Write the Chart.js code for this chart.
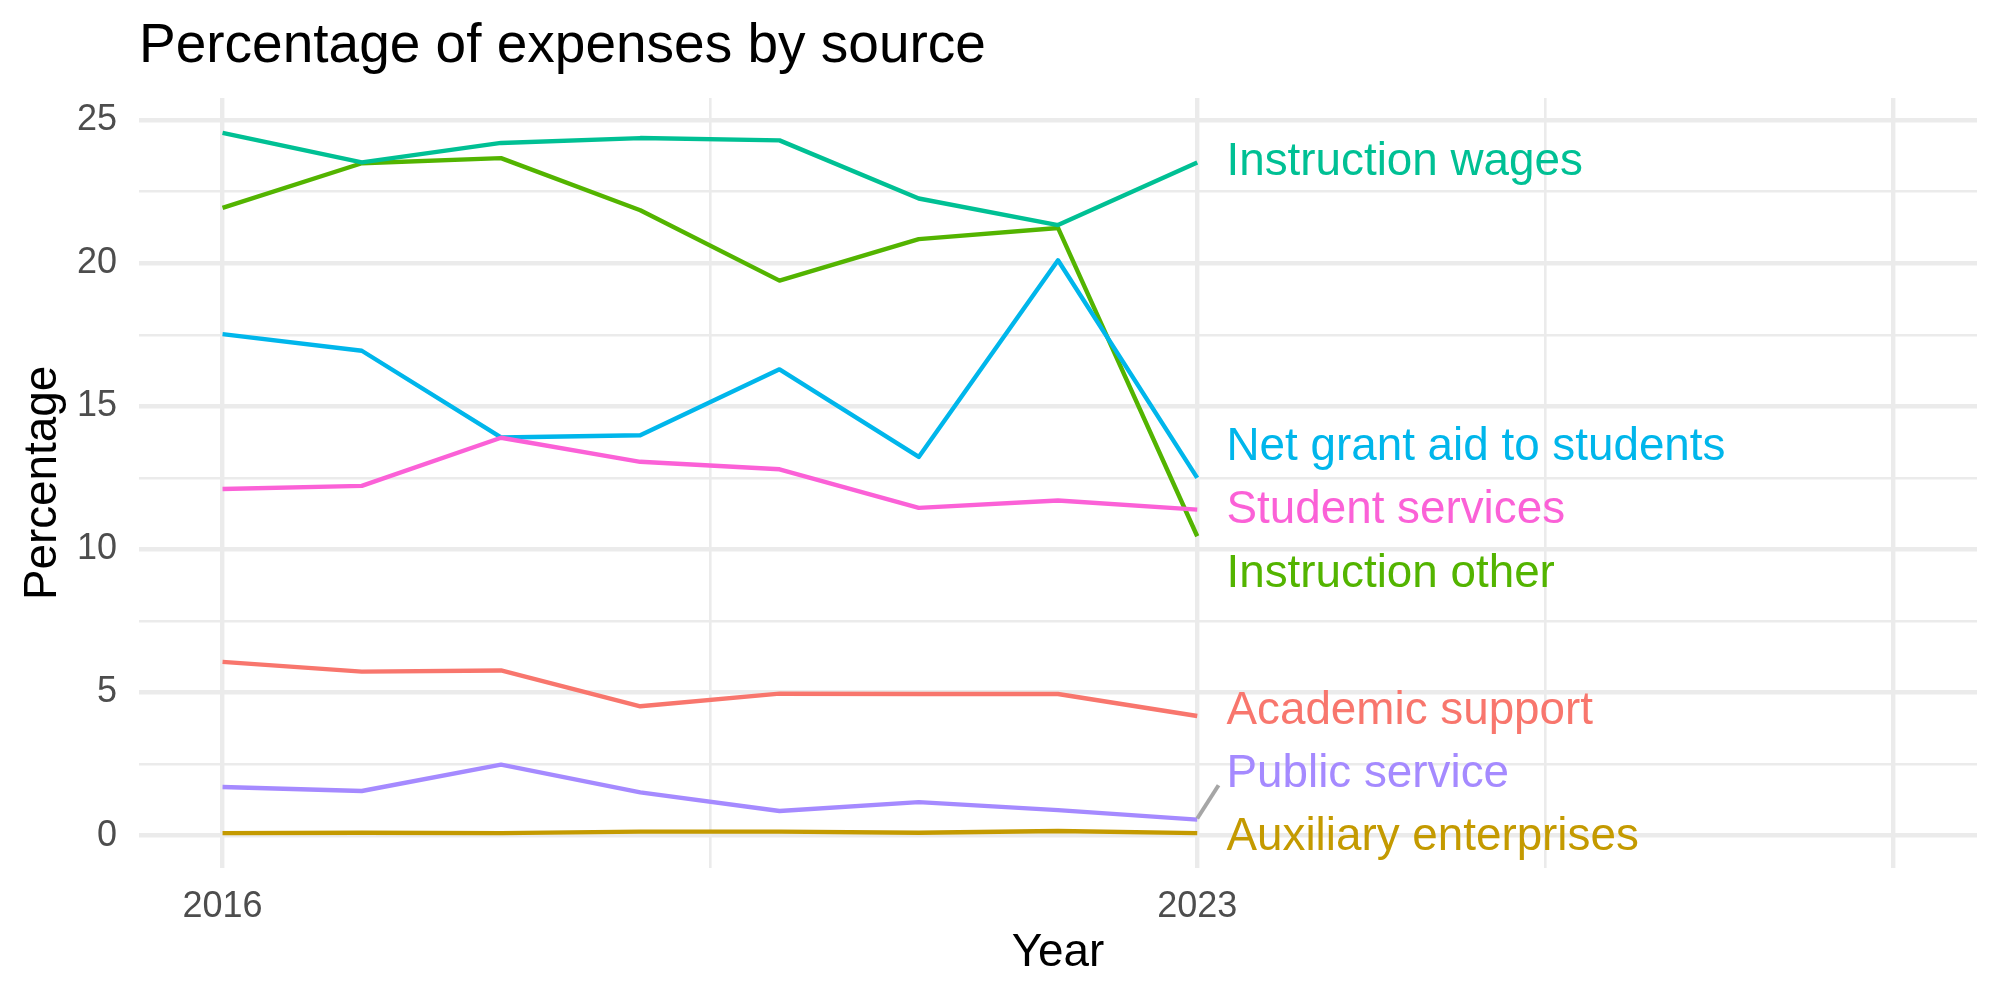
<!DOCTYPE html>
<html>
<head>
<meta charset="utf-8">
<script src="https://cdn.jsdelivr.net/npm/chart.js@4/dist/chart.umd.min.js"></script>
<style>
  html, body { margin: 0; padding: 0; background: #ffffff; }
  #wrap { width: 2000px; height: 1000px; position: relative; }
</style>
</head>
<body>
<div id="wrap"><canvas id="c"></canvas></div>
<script>
// ---- Data ----
const years = [2016, 2017, 2018, 2019, 2020, 2021, 2022, 2023];
const seriesNames = ["Academic support", "Auxiliary enterprises", "Instruction other",
  "Instruction wages", "Net grant aid to students", "Public service", "Student services"];
const academicSupport      = [6.07, 5.73, 5.77, 4.52, 4.96, 4.95, 4.95, 4.18];
const auxiliaryEnterprises = [0.09, 0.10, 0.09, 0.14, 0.14, 0.10, 0.16, 0.09];
const instructionOther     = [21.93, 23.49, 23.67, 21.85, 19.39, 20.84, 21.23, 10.46];
const instructionWages     = [24.55, 23.52, 24.20, 24.37, 24.29, 22.26, 21.33, 23.52];
const netGrantAid          = [17.52, 16.94, 13.91, 13.99, 16.29, 13.23, 20.10, 12.50];
const publicService        = [1.70, 1.56, 2.48, 1.51, 0.86, 1.17, 0.89, 0.56];
const studentServices      = [12.11, 12.22, 13.90, 13.06, 12.80, 11.45, 11.71, 11.39];
const seriesColors = ["#F8766D", "#C49A00", "#53B400", "#00C094", "#00B6EB", "#A58AFF", "#FB61D7"];
// repelled label positions (data units)
const labelX = 2023.21;
const labelY = [4.34, -0.06, 9.13, 23.51, 13.56, 2.15, 11.36];
// leader segment for "Public service" label
const segmentFrom = [2023, 0.60];
const segmentTo = [2023.153, 1.76];
// axis ticks
const xMajorTicks = [2016, 2023, 2028];
const xMinorTicks = [2019.5, 2025.5];
const xTickLabels = {2016: "2016", 2023: "2023"};
const yTicks = [0, 2.5, 5, 7.5, 10, 12.5, 15, 17.5, 20, 22.5, 25];
const yTickLabels = {0: "0", 5: "5", 10: "10", 15: "15", 20: "20", 25: "25"};

const allSeries = [academicSupport, auxiliaryEnterprises, instructionOther, instructionWages,
  netGrantAid, publicService, studentServices];

const FONT = "'Liberation Sans', Arial, Helvetica, sans-serif";
const GRID = "#EBEBEB";

const datasets = allSeries.map((vals, i) => ({
  label: seriesNames[i],
  data: years.map((yr, j) => ({x: yr, y: vals[j]})),
  borderColor: seriesColors[i],
  backgroundColor: seriesColors[i],
  borderWidth: 4.4,
  pointRadius: 0,
  pointHoverRadius: 0,
  tension: 0,
  fill: false,
  borderJoinStyle: 'round',
  borderCapStyle: 'butt',
  order: allSeries.length - i
}));

const labelPlugin = {
  id: 'repelLabels',
  afterDatasetsDraw(chart) {
    const {ctx, scales: {x, y}} = chart;
    ctx.save();
    // leader segment
    ctx.strokeStyle = '#A6A6A6';
    ctx.lineWidth = 4;
    ctx.lineCap = 'butt';
    ctx.beginPath();
    ctx.moveTo(x.getPixelForValue(segmentFrom[0]), y.getPixelForValue(segmentFrom[1]));
    ctx.lineTo(x.getPixelForValue(segmentTo[0]), y.getPixelForValue(segmentTo[1]));
    ctx.stroke();
    // labels
    ctx.font = "45.8px " + FONT;
    ctx.textAlign = 'left';
    ctx.textBaseline = 'middle';
    seriesNames.forEach((name, i) => {
      ctx.fillStyle = seriesColors[i];
      ctx.fillText(name, x.getPixelForValue(labelX), y.getPixelForValue(labelY[i]));
    });
    ctx.restore();
  }
};

new Chart(document.getElementById('c'), {
  type: 'line',
  data: { datasets },
  plugins: [labelPlugin],
  options: {
    responsive: true,
    maintainAspectRatio: false,
    devicePixelRatio: 1,
    animation: false,
    events: [],
    layout: { padding: { left: 0, right: 23, top: 0, bottom: 0 } },
    plugins: {
      legend: { display: false },
      tooltip: { enabled: false },
      title: {
        display: true,
        text: 'Percentage of expenses by source',
        align: 'start',
        fullSize: false,
        color: '#000000',
        font: { family: FONT, size: 55, weight: 'normal', lineHeight: 1.2 },
        padding: { top: 13.5, bottom: 18.5 }
      }
    },
    scales: {
      x: {
        type: 'linear',
        min: 2015.4,
        max: 2028.6,
        afterBuildTicks(scale) {
          scale.ticks = [...xMajorTicks, ...xMinorTicks].sort((a, b) => a - b).map(v => ({value: v}));
        },
        afterFit(scale) { scale.height = 132; },
        ticks: {
          autoSkip: false,
          maxRotation: 0,
          minRotation: 0,
          padding: 17,
          color: '#4D4D4D',
          font: { family: FONT, size: 36 },
          callback: (v) => xTickLabels[v] || ''
        },
        grid: {
          drawTicks: false,
          color: GRID,
          lineWidth: (ctx) => (ctx.tick && xMajorTicks.includes(ctx.tick.value)) ? 4.4 : 2.6
        },
        border: { display: false },
        title: {
          display: true,
          text: 'Year',
          color: '#000000',
          font: { family: FONT, size: 45.8, lineHeight: 1.2 },
          padding: { top: 0, bottom: 19 }
        }
      },
      y: {
        type: 'linear',
        min: -1.13,
        max: 25.77,
        afterBuildTicks(scale) {
          scale.ticks = yTicks.map(v => ({value: v}));
        },
        afterFit(scale) { scale.width = 139; },
        ticks: {
          autoSkip: false,
          padding: 22,
          color: '#4D4D4D',
          font: { family: FONT, size: 36 },
          callback: (v) => (yTickLabels[v] !== undefined ? yTickLabels[v] : '')
        },
        grid: {
          drawTicks: false,
          color: GRID,
          lineWidth: (ctx) => (ctx.tick && ctx.tick.value % 5 === 0) ? 4.4 : 2.4
        },
        border: { display: false },
        title: {
          display: true,
          text: 'Percentage',
          color: '#000000',
          font: { family: FONT, size: 45.8, lineHeight: 1.2 },
          padding: { top: 16, bottom: 0 }
        }
      }
    }
  }
});
</script>
</body>
</html>
